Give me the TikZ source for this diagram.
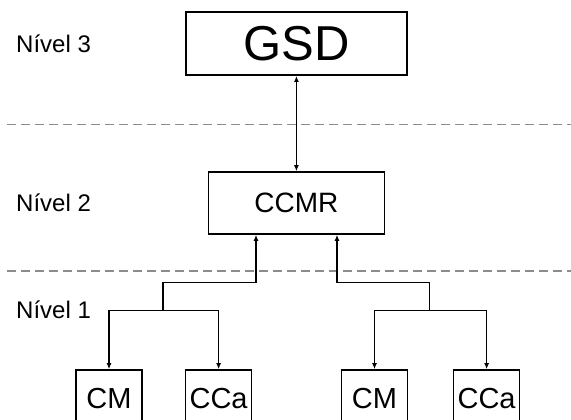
\documentclass[tikz,border=0pt]{standalone}
\usepackage{fontspec}
\setmainfont{Liberation Sans}
\usetikzlibrary{positioning,arrows.meta}
\tikzset{
	caixa/.style={draw,line width=1.6pt,inner sep=0pt,minimum width=66pt,minimum height=58pt,font=\fontsize{29}{32}\selectfont},
	nivel/.style={anchor=west,inner sep=0pt,font=\fontsize{24}{27}\selectfont},
	seta/.style={-{Latex[length=6pt,width=5pt]},line width=1.4pt},
	divisa/.style={draw=black!45,line width=1.1pt,dash pattern=on 9pt off 5pt}
}
\begin{document}
\begin{tikzpicture}[x=1pt,y=-1pt]
				\clip (0,0) rectangle (571,420);
				\node [caixa,minimum width=221pt,minimum height=63pt,font=\fontsize{49}{53}\selectfont] (gsd) at (296.4,43.7) {GSD};
				\node [caixa,minimum width=176pt,minimum height=62pt,font=\fontsize{28}{32}\selectfont] (ccmr) at (296.4,203) {CCMR};
				\node [caixa] (cm1) at (109,399) {CM};                   \node [caixa,right = 42pt of cm1] (cca1) {CCa};
				\node [caixa] (cm2) at (374.5,399) {CM};                 \node [caixa,right = 44.5pt of cm2] (cca2) {CCa};
				\node [nivel] (n3) at (16,43.7) {Nível 3};               \node [nivel] (n2) at (16,203) {Nível 2};
				\node [nivel] (n1) at (16,310) {Nível 1};
				\draw [divisa] (7,124.3) -- (571,124.3);                 \draw [divisa] (7,271) -- (571,271);
				\draw [seta,{Latex[length=6pt,width=5pt]}-{Latex[length=6pt,width=5pt]}] (gsd) -- (ccmr);
				\coordinate (j1) at (163,310.5);                         \coordinate (j2) at (429.7,310.5);
				\coordinate (k1) at (256,282.7);                         \coordinate (k2) at (337,282.7);
				\draw [seta] (j1) -| (cm1);                              \draw [seta] (j1) -| (cca1);
				\draw [seta] (j2) -| (cm2);                              \draw [seta] (j2) -| (cca2);
				\draw [seta] (j1) |- (k1) -- (k1 |- ccmr.south);         \draw [seta] (j2) |- (k2) -- (k2 |- ccmr.south);
\end{tikzpicture}
\end{document}
